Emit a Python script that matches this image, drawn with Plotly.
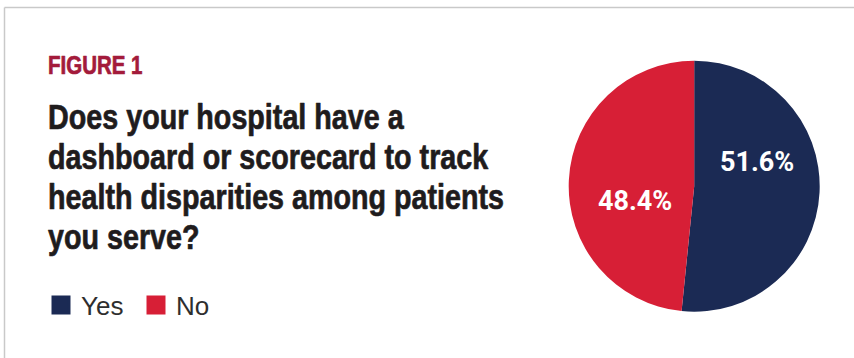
import math
import plotly.graph_objects as go

# ---- data ----
categories = ["Yes", "No"]
values = [51.6, 48.4]
colors = ["#1b2a54", "#d71f36"]
figure_label = "FIGURE 1"
title_lines = [
    "Does your hospital have a",
    "dashboard or scorecard to track",
    "health disparities among patients",
    "you serve?",
]

W, H = 854, 358


def px(x):
    return x / W


def py(y):
    return 1 - y / H


COND = "Liberation Sans, Arial, sans-serif"

fig = go.Figure()

# pie geometry (pixels)
cx, cy, R = 694.2, 186.2, 125.5
fig.add_trace(go.Pie(
    labels=categories,
    values=values,
    sort=False,
    direction="clockwise",
    rotation=0,
    marker=dict(colors=colors, line=dict(width=0)),
    textinfo="none",
    hoverinfo="label+percent",
    showlegend=False,
    domain=dict(x=[px(cx - R), px(cx + R)], y=[py(cy + R), py(cy - R)]),
))

# legend entries
for cat, col in zip(categories, colors):
    fig.add_trace(go.Scatter(
        x=[None], y=[None], mode="markers", name=cat,
        marker=dict(symbol="square", size=16, color=col, line=dict(color=col, width=3)),
        showlegend=True, hoverinfo="skip",
    ))

annotations = []
# percentage labels placed relative to each slice's mid-angle (computed from data)
label_angle_shift = [-24, -17]
label_radius = [0.537, 0.485]
total = sum(values)
cum = 0.0
for v, da, rf in zip(values, label_angle_shift, label_radius):
    mid = (cum + v / 2) / total * 360.0
    cum += v
    ang = math.radians(mid + da)
    r = rf * R
    lx = cx + r * math.sin(ang)
    ly = cy - r * math.cos(ang)
    annotations.append(dict(
        x=px(lx), y=py(ly), xref="paper", yref="paper",
        text=f"<b>{v:.1f}%</b>", showarrow=False,
        xanchor="center", yanchor="middle",
        font=dict(family="Roboto, sans-serif", size=27, color="white"),
    ))

annotations.append(dict(
    x=px(45.5), y=py(64.5), xref="paper", yref="paper",
    text=f"<b>{figure_label}</b>", showarrow=False,
    xanchor="left", yanchor="middle",
    font=dict(family=COND, size=25, color="#a31b3b"),
))

for i, line in enumerate(title_lines):
    base = 129.3 + 40 * i
    annotations.append(dict(
        x=px(45.5), y=py(base - 12.5), xref="paper", yref="paper",
        text=f"<b>{line}</b>", showarrow=False,
        xanchor="left", yanchor="middle",
        font=dict(family=COND, size=35, color="#1f1c1d"),
    ))

shapes = [
    dict(type="line", xref="paper", yref="paper", x0=px(4.5), x1=1.0,
         y0=py(7.5), y1=py(7.5), line=dict(color="#c9c9c9", width=1.5)),
    dict(type="line", xref="paper", yref="paper", x0=px(4.5), x1=px(4.5),
         y0=py(7.5), y1=0, line=dict(color="#c9c9c9", width=1.5)),
]

fig.update_layout(
    width=W, height=H,
    margin=dict(l=0, r=0, t=0, b=0),
    paper_bgcolor="white", plot_bgcolor="white",
    xaxis=dict(visible=False), yaxis=dict(visible=False),
    showlegend=True,
    legend=dict(
        orientation="h", x=px(41), y=py(305), xanchor="left", yanchor="middle",
        font=dict(family="Liberation Sans, Arial, sans-serif", size=26, color="#2e2e2e"),
        bgcolor="rgba(0,0,0,0)", itemclick=False, itemdoubleclick=False,
        entrywidth=50, entrywidthmode="pixels",
    ),
    annotations=annotations,
    shapes=shapes,
)

# Condense the title texts horizontally (narrow heavy look), keeping them as real text
post_js = """
(function(){
  var gd = document.getElementById('{plot_id}');
  function condense(){
    var ts = gd.querySelectorAll('text.annotation-text');
    ts.forEach(function(t){
      var ff = (t.style.fontFamily || '') + ' ' + (t.getAttribute('style') || '');
      if (ff.indexOf('Liberation') >= 0) {
        t.style.transformBox = 'fill-box';
        t.style.transformOrigin = 'left center';
        t.style.transform = 'scaleX(0.82)';
        var fill = t.style.fill || window.getComputedStyle(t).fill;
        t.style.stroke = fill;
        t.style.strokeWidth = '0.7px';
        t.style.strokeLinejoin = 'round';
      }
    });
  }
  condense();
  if (gd && gd.on) { gd.on('plotly_afterplot', condense); }
  setTimeout(condense, 50);
})();
"""

fig.write_html("out.html", post_script=post_js)
